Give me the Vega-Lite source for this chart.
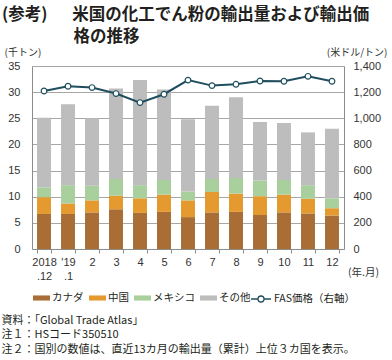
{
  "$schema": "https://vega.github.io/schema/vega-lite/v6.json",
  "width": 312,
  "height": 183,
  "autosize": "none",
  "padding": {"left": 32, "top": 66, "right": 48, "bottom": 111},
  "background": "white",
  "config": {"view": {"stroke": null}, "font": "Noto Sans CJK JP"},
  "title": {
    "text": ["(参考)\u3000\u2002米国の化工でん粉の輸出量および輸出価", "\u200b\u3000\u3000\u3000\u3000\u2004格の推移"],
    "anchor": "start",
    "frame": "group",
    "orient": "top",
    "font": "Noto Sans CJK JP",
    "fontSize": 16.5,
    "fontWeight": "bold",
    "lineHeight": 22,
    "dx": -30,
    "dy": 2,
    "color": "#231f20"
  },
  "datasets": {
    "bars": [
      {"m": "2018|.12", "c": "カナダ", "o": 1, "v": 6.7},
      {"m": "2018|.12", "c": "中国", "o": 2, "v": 3.2},
      {"m": "2018|.12", "c": "メキシコ", "o": 3, "v": 1.9},
      {"m": "2018|.12", "c": "その他", "o": 4, "v": 13.3},
      {"m": "'19|.1", "c": "カナダ", "o": 1, "v": 6.7},
      {"m": "'19|.1", "c": "中国", "o": 2, "v": 2.0},
      {"m": "'19|.1", "c": "メキシコ", "o": 3, "v": 3.5},
      {"m": "'19|.1", "c": "その他", "o": 4, "v": 15.5},
      {"m": "2", "c": "カナダ", "o": 1, "v": 7.0},
      {"m": "2", "c": "中国", "o": 2, "v": 2.3},
      {"m": "2", "c": "メキシコ", "o": 3, "v": 2.8},
      {"m": "2", "c": "その他", "o": 4, "v": 12.9},
      {"m": "3", "c": "カナダ", "o": 1, "v": 7.6},
      {"m": "3", "c": "中国", "o": 2, "v": 2.6},
      {"m": "3", "c": "メキシコ", "o": 3, "v": 3.2},
      {"m": "3", "c": "その他", "o": 4, "v": 17.3},
      {"m": "4", "c": "カナダ", "o": 1, "v": 6.9},
      {"m": "4", "c": "中国", "o": 2, "v": 2.8},
      {"m": "4", "c": "メキシコ", "o": 3, "v": 2.5},
      {"m": "4", "c": "その他", "o": 4, "v": 20.1},
      {"m": "5", "c": "カナダ", "o": 1, "v": 7.1},
      {"m": "5", "c": "中国", "o": 2, "v": 3.3},
      {"m": "5", "c": "メキシコ", "o": 3, "v": 2.8},
      {"m": "5", "c": "その他", "o": 4, "v": 17.3},
      {"m": "6", "c": "カナダ", "o": 1, "v": 6.1},
      {"m": "6", "c": "中国", "o": 2, "v": 3.2},
      {"m": "6", "c": "メキシコ", "o": 3, "v": 1.7},
      {"m": "6", "c": "その他", "o": 4, "v": 13.8},
      {"m": "7", "c": "カナダ", "o": 1, "v": 7.0},
      {"m": "7", "c": "中国", "o": 2, "v": 3.9},
      {"m": "7", "c": "メキシコ", "o": 3, "v": 2.5},
      {"m": "7", "c": "その他", "o": 4, "v": 14.0},
      {"m": "8", "c": "カナダ", "o": 1, "v": 7.1},
      {"m": "8", "c": "中国", "o": 2, "v": 3.5},
      {"m": "8", "c": "メキシコ", "o": 3, "v": 3.0},
      {"m": "8", "c": "その他", "o": 4, "v": 15.4},
      {"m": "9", "c": "カナダ", "o": 1, "v": 6.5},
      {"m": "9", "c": "中国", "o": 2, "v": 3.6},
      {"m": "9", "c": "メキシコ", "o": 3, "v": 3.0},
      {"m": "9", "c": "その他", "o": 4, "v": 11.2},
      {"m": "10", "c": "カナダ", "o": 1, "v": 7.0},
      {"m": "10", "c": "中国", "o": 2, "v": 3.4},
      {"m": "10", "c": "メキシコ", "o": 3, "v": 2.8},
      {"m": "10", "c": "その他", "o": 4, "v": 10.9},
      {"m": "11", "c": "カナダ", "o": 1, "v": 6.8},
      {"m": "11", "c": "中国", "o": 2, "v": 2.8},
      {"m": "11", "c": "メキシコ", "o": 3, "v": 2.6},
      {"m": "11", "c": "その他", "o": 4, "v": 10.1},
      {"m": "12", "c": "カナダ", "o": 1, "v": 6.4},
      {"m": "12", "c": "中国", "o": 2, "v": 1.4},
      {"m": "12", "c": "メキシコ", "o": 3, "v": 1.9},
      {"m": "12", "c": "その他", "o": 4, "v": 13.3}
    ],
    "price": [
      {"m": "2018|.12", "s": "FAS価格（右軸）", "p": 1209},
      {"m": "'19|.1", "s": "FAS価格（右軸）", "p": 1245},
      {"m": "2", "s": "FAS価格（右軸）", "p": 1235},
      {"m": "3", "s": "FAS価格（右軸）", "p": 1189},
      {"m": "4", "s": "FAS価格（右軸）", "p": 1120},
      {"m": "5", "s": "FAS価格（右軸）", "p": 1184},
      {"m": "6", "s": "FAS価格（右軸）", "p": 1292},
      {"m": "7", "s": "FAS価格（右軸）", "p": 1250},
      {"m": "8", "s": "FAS価格（右軸）", "p": 1260},
      {"m": "9", "s": "FAS価格（右軸）", "p": 1285},
      {"m": "10", "s": "FAS価格（右軸）", "p": 1283},
      {"m": "11", "s": "FAS価格（右軸）", "p": 1321},
      {"m": "12", "s": "FAS価格（右軸）", "p": 1283}
    ]
  },
  "layer": [
    {
      "data": {"name": "bars"},
      "mark": {"type": "bar"},
      "encoding": {
        "x": {
          "field": "m",
          "type": "nominal",
          "sort": null,
          "scale": {
            "domain": ["2018|.12", "'19|.1", "2", "3", "4", "5", "6", "7", "8", "9", "10", "11", "12"],
            "paddingInner": 0.417,
            "paddingOuter": 0.21
          },
          "axis": {
            "orient": "bottom",
            "labelExpr": "isValid(datum.value) ? split(datum.value, '|') : ''",
            "labelAngle": 0,
            "tickBand": "extent",
            "tickSize": 4,
            "tickColor": "#8c8c8c",
            "domainColor": "#8c8c8c",
            "grid": false,
            "labelPadding": 3,
            "labelLineHeight": 14,
            "labelFont": "Liberation Sans",
            "labelFontSize": 11,
            "labelColor": "#333333",
            "title": "(年.月)",
            "titleX": 331,
            "titleY": 23,
            "titleAlign": "center",
            "titleBaseline": "middle",
            "titleFont": "Noto Sans CJK JP",
            "titleFontSize": 10.5,
            "titleFontWeight": "normal",
            "titleColor": "#333333"
          }
        },
        "y": {
          "field": "v",
          "type": "quantitative",
          "stack": "zero",
          "scale": {"domain": [0, 35]},
          "axis": {
            "orient": "left",
            "values": [0, 5, 10, 15, 20, 25, 30, 35],
            "grid": true,
            "gridColor": "#a6a6a6",
            "domainColor": "#8c8c8c",
            "ticks": false,
            "labelFont": "Liberation Sans",
            "labelFontSize": 11,
            "labelColor": "#333333",
            "labelPadding": 12,
            "title": "(千トン)",
            "titleAngle": 0,
            "titleX": -28,
            "titleY": -14,
            "titleAlign": "left",
            "titleBaseline": "middle",
            "titleFont": "Noto Sans CJK JP",
            "titleFontSize": 10,
            "titleFontWeight": "normal",
            "titleColor": "#333333"
          }
        },
        "color": {
          "field": "c",
          "type": "nominal",
          "scale": {
            "domain": ["カナダ", "中国", "メキシコ", "その他"],
            "range": ["#a96d36", "#e49a2e", "#a9cf9c", "#bdbdbd"]
          },
          "legend": {
            "orient": "none",
            "legendX": 1,
            "legendY": 223.5,
            "direction": "horizontal",
            "title": null,
            "symbolType": "M-1,-0.3H1V0.3H-1Z",
            "symbolSize": 289,
            "symbolStrokeWidth": 0,
            "labelFont": "Noto Sans CJK JP",
            "labelFontSize": 10.5,
            "labelOffset": 2,
            "columnPadding": 5,
            "padding": 0,
            "labelColor": "#231f20"
          }
        },
        "order": {"field": "o", "type": "quantitative"}
      }
    },
    {
      "data": {"name": "price"},
      "mark": {
        "type": "line",
        "strokeWidth": 2,
        "point": {"filled": false, "fill": "white", "size": 32, "strokeWidth": 1.2}
      },
      "encoding": {
        "x": {
          "field": "m",
          "type": "nominal",
          "sort": null,
          "axis": {
            "orient": "top",
            "labels": false,
            "ticks": false,
            "domain": false,
            "grid": false,
            "title": ["資料：「Global Trade Atlas」", "注１：HSコード350510", "注２：国別の数値は、直近13カ月の輸出量（累計）上位３カ国を表示。"],
            "titleX": -31,
            "titleY": 257,
            "titleAlign": "left",
            "titleBaseline": "alphabetic",
            "titleFont": "Noto Sans CJK JP",
            "titleFontSize": 11,
            "titleFontWeight": "normal",
            "titleLineHeight": 14.5,
            "titleColor": "#231f20"
          }
        },
        "y": {
          "field": "p",
          "type": "quantitative",
          "scale": {"domain": [0, 1400]},
          "axis": {
            "orient": "right",
            "values": [0, 200, 400, 600, 800, 1000, 1200, 1400],
            "format": ",.0f",
            "grid": false,
            "ticks": false,
            "domainColor": "#8c8c8c",
            "labelFont": "Liberation Sans",
            "labelFontSize": 11,
            "labelColor": "#333333",
            "labelPadding": 9,
            "title": "(米ドル/トン)",
            "titleAngle": 0,
            "titleX": 43,
            "titleY": -14,
            "titleAlign": "right",
            "titleBaseline": "middle",
            "titleFont": "Noto Sans CJK JP",
            "titleFontSize": 10,
            "titleFontWeight": "normal",
            "titleColor": "#333333"
          }
        },
        "stroke": {
          "field": "s",
          "type": "nominal",
          "scale": {"domain": ["FAS価格（右軸）"], "range": ["#1f4e5f"]},
          "legend": {
            "orient": "none",
            "legendX": 218,
            "legendY": 222,
            "title": null,
            "symbolType": "M-1,0H-0.3M0.3,0H1M0.3,0A0.3,0.3 0 1,1 -0.3,0A0.3,0.3 0 1,1 0.3,0",
            "symbolSize": 400,
            "symbolStrokeWidth": 1.3,
            "symbolFillColor": "white",
            "symbolStrokeColor": "#1f4e5f",
            "labelFont": "Noto Sans CJK JP",
            "labelFontSize": 10.5,
            "labelOffset": 2,
            "padding": 0,
            "labelColor": "#231f20"
          }
        }
      }
    }
  ],
  "resolve": {"scale": {"y": "independent"}, "axis": {"x": "independent"}}
}
